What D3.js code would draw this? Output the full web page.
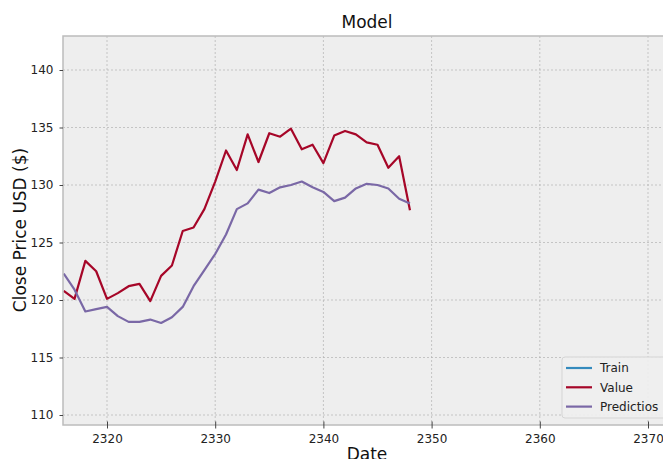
<!DOCTYPE html>
<html>
<head>
<meta charset="utf-8">
<script src="https://cdn.jsdelivr.net/npm/d3@7"></script>
<style>
  body { margin: 0; background: #fff; }
  svg { display: block; font-family: "DejaVu Sans", sans-serif; }
</style>
</head>
<body>
<svg id="chart"></svg>
<script>
// data
const dates = d3.range(2316, 2349);
const trainValues = []; // train series has no points inside the visible window
const closeValues = [120.8, 120.1, 123.4, 122.5, 120.1, 120.6, 121.2, 121.4, 119.9, 122.1,
  123.0, 126.0, 126.3, 127.9, 130.3, 133.0, 131.3, 134.4, 132.0, 134.5,
  134.2, 134.9, 133.1, 133.5, 131.9, 134.3, 134.7, 134.4, 133.7, 133.5,
  131.5, 132.5, 127.8];
const predValues = [122.3, 120.9, 119.0, 119.2, 119.4, 118.6, 118.1, 118.1, 118.3, 118.0,
  118.5, 119.4, 121.2, 122.6, 124.0, 125.7, 127.9, 128.4, 129.6, 129.3,
  129.8, 130.0, 130.3, 129.8, 129.4, 128.6, 128.9, 129.7, 130.1, 130.0,
  129.7, 128.8, 128.4];
const seriesNames = ["Train", "Value", "Predictios"];
const xTicks = [2320, 2330, 2340, 2350, 2360, 2370];
const yTicks = [110, 115, 120, 125, 130, 135, 140];

const width = 663, height = 459;
const plotLeft = 63, plotTop = 36, plotBottom = 425, plotRight = 690;
const colors = ["#348ABD", "#A60628", "#7A68A6"];

const x = d3.scaleLinear([2320, 2370], [107, 648]);
const y = d3.scaleLinear([110, 140], [415, 70]);

const svg = d3.select("#chart")
  .attr("width", width)
  .attr("height", height)
  .attr("viewBox", [0, 0, width, height]);

// axes background
svg.append("rect")
  .attr("x", plotLeft).attr("y", plotTop)
  .attr("width", plotRight - plotLeft).attr("height", plotBottom - plotTop)
  .attr("fill", "#eeeeee");

svg.append("clipPath").attr("id", "clip")
  .append("rect")
  .attr("x", plotLeft).attr("y", plotTop)
  .attr("width", plotRight - plotLeft).attr("height", plotBottom - plotTop);

// grid
const grid = svg.append("g").attr("stroke", "#b2b2b2").attr("stroke-width", 0.7)
  .attr("stroke-dasharray", "2,2");
grid.selectAll(".gx").data(xTicks).join("line")
  .attr("x1", d => x(d)).attr("x2", d => x(d))
  .attr("y1", plotTop).attr("y2", plotBottom);
grid.selectAll(".gy").data(yTicks).join("line")
  .attr("x1", plotLeft).attr("x2", plotRight)
  .attr("y1", d => y(d)).attr("y2", d => y(d));

// lines
const line = d3.line().x((d, i) => x(dates[i])).y(d => y(d));
const plot = svg.append("g").attr("clip-path", "url(#clip)");
[trainValues, closeValues, predValues].forEach((vals, k) => {
  if (!vals.length) return;
  plot.append("path")
    .attr("d", line(vals))
    .attr("fill", "none")
    .attr("stroke", colors[k])
    .attr("stroke-width", 2.2)
    .attr("stroke-linejoin", "round");
});

// frame
svg.append("rect")
  .attr("x", plotLeft).attr("y", plotTop)
  .attr("width", plotRight - plotLeft).attr("height", plotBottom - plotTop)
  .attr("fill", "none").attr("stroke", "#bcbcbc").attr("stroke-width", 1.5);

// x axis
svg.append("g")
  .attr("transform", `translate(0,${plotBottom})`)
  .call(d3.axisBottom(x).tickValues(xTicks).tickFormat(d3.format("d")).tickSize(3.5).tickPadding(6))
  .call(g => g.select(".domain").remove())
  .call(g => g.selectAll(".tick line").attr("stroke", "#444").attr("y1", -3.5))
  .call(g => g.selectAll(".tick text").attr("fill", "#222").attr("font-size", 12)
    .attr("font-family", "DejaVu Sans"));

// y axis
svg.append("g")
  .attr("transform", `translate(${plotLeft},0)`)
  .call(d3.axisLeft(y).tickValues(yTicks).tickSize(3.5).tickPadding(6))
  .call(g => g.select(".domain").remove())
  .call(g => g.selectAll(".tick line").attr("stroke", "#444"))
  .call(g => g.selectAll(".tick text").attr("fill", "#222").attr("font-size", 12)
    .attr("font-family", "DejaVu Sans"));

// title and labels
svg.append("text")
  .attr("x", 367).attr("y", 28)
  .attr("text-anchor", "middle").attr("font-size", 17).attr("fill", "#111")
  .text("Model");
svg.append("text")
  .attr("x", 367).attr("y", 460)
  .attr("text-anchor", "middle").attr("font-size", 17).attr("fill", "#111")
  .text("Date");
svg.append("text")
  .attr("transform", "translate(26,230) rotate(-90)")
  .attr("text-anchor", "middle").attr("font-size", 17).attr("fill", "#111")
  .text("Close Price USD ($)");

// legend
const legend = svg.append("g").attr("transform", "translate(562,357)");
legend.append("rect")
  .attr("width", 130).attr("height", 61).attr("rx", 3)
  .attr("fill", "#eeeeee").attr("fill-opacity", 0.9)
  .attr("stroke", "#d5d5d5").attr("stroke-width", 1);
const items = legend.selectAll(".item").data(seriesNames).join("g")
  .attr("transform", (d, i) => `translate(0,${11 + i * 19.3})`);
items.append("line")
  .attr("x1", 4).attr("x2", 30)
  .attr("stroke", (d, i) => colors[i]).attr("stroke-width", 2.2);
items.append("text")
  .attr("x", 38).attr("dy", "0.35em")
  .attr("font-size", 12).attr("fill", "#222")
  .text(d => d);
</script>
</body>
</html>
